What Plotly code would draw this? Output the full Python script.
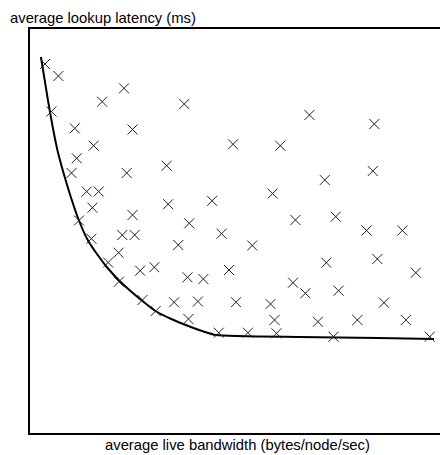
import plotly.graph_objects as go

# Measurements (bandwidth in arbitrary units, latency in arbitrary units)
bandwidth = [15, 28.5, 94.5, 72.5, 155, 21.5, 280.8, 346, 45, 103,
             64, 204, 251.5, 47, 137.3, 41.7, 97.2, 344.5, 296.2, 57,
             69, 243.8, 62.7, 138.8, 183, 103, 49.2, 160, 266.7, 307.2,
             192.5, 92.7, 105.2, 61.7, 338.2, 374.2, 149, 223.3, 89, 78.5,
             110.7, 125, 200, 297.7, 349, 387.7, 89.3, 158.3, 174.2, 264.3,
             276.7, 310, 113, 144.8, 168.7, 207, 241.7, 355.7, 126.3, 159.2,
             245.7, 289.3, 329, 377.7, 189.7, 219, 247.7, 305, 401.7]
latency = [369, 357, 344.7, 331.3, 329, 321.5, 318, 309, 304.7, 303.5,
           287.3, 288.7, 287.3, 274.7, 267.3, 260, 260, 262, 253, 241.5,
           241.5, 239.5, 225.3, 228.8, 232.2, 218, 212.5, 209.7, 213, 216.3,
           199.3, 198, 198, 194.3, 202.5, 202.5, 188, 187.5, 180.3, 170.5,
           162.3, 165.8, 163, 170.3, 174, 160.3, 151.3, 155.7, 154, 150.3,
           139.7, 142.3, 133, 130.7, 131.5, 130.8, 129, 130.3, 122, 114,
           113, 111.3, 113, 113, 100.3, 100.3, 99.7, 96.3, 96.3]

# Lower envelope (frontier)
frontier_bw = [11, 18, 23, 28, 34, 41, 49, 58, 68, 78, 89, 101, 113, 126,
               142, 159, 173, 187, 270, 350, 406]
frontier_lat = [376, 333, 305, 281, 259, 236, 213, 193, 178, 165, 153, 142,
                132, 122, 114, 107, 102, 98, 96, 95, 94]

x_title = "average live bandwidth (bytes/node/sec)"
y_title = "average lookup latency (ms)"

fig = go.Figure()
fig.add_trace(go.Scatter(
    x=frontier_bw, y=frontier_lat, mode="lines",
    line=dict(color="black", width=2, shape="spline", smoothing=0.5),
    hoverinfo="skip", showlegend=False))
fig.add_trace(go.Scatter(
    x=bandwidth, y=latency, mode="markers",
    marker=dict(symbol="x-thin", size=10, color="#222",
                line=dict(color="#222", width=1)),
    showlegend=False))

axis_common = dict(showgrid=False, zeroline=False, showticklabels=False,
                   ticks="", showline=True, linecolor="black", linewidth=2,
                   mirror=True, fixedrange=True)
fig.update_xaxes(range=[0, 412], **axis_common)
fig.update_yaxes(range=[0, 404], **axis_common)

font = dict(family="Liberation Sans, Arial, Helvetica, sans-serif",
            size=14.8, color="black")
# The page body adds an 8px offset, so the figure is sized to fit the window.
fig.update_layout(
    width=440, height=447,
    margin=dict(l=22, r=6, t=21, b=22),
    paper_bgcolor="white", plot_bgcolor="white",
    annotations=[
        dict(text=y_title, xref="paper", yref="paper",
             x=(8 - 30) / 412, y=(433 - 18) / 404,
             xanchor="left", yanchor="middle", showarrow=False, font=font),
        dict(text=x_title, xref="paper", yref="paper",
             x=0.505, y=(433 - 445) / 404,
             xanchor="center", yanchor="middle", showarrow=False, font=font),
    ],
)

fig.write_html("out.html")
